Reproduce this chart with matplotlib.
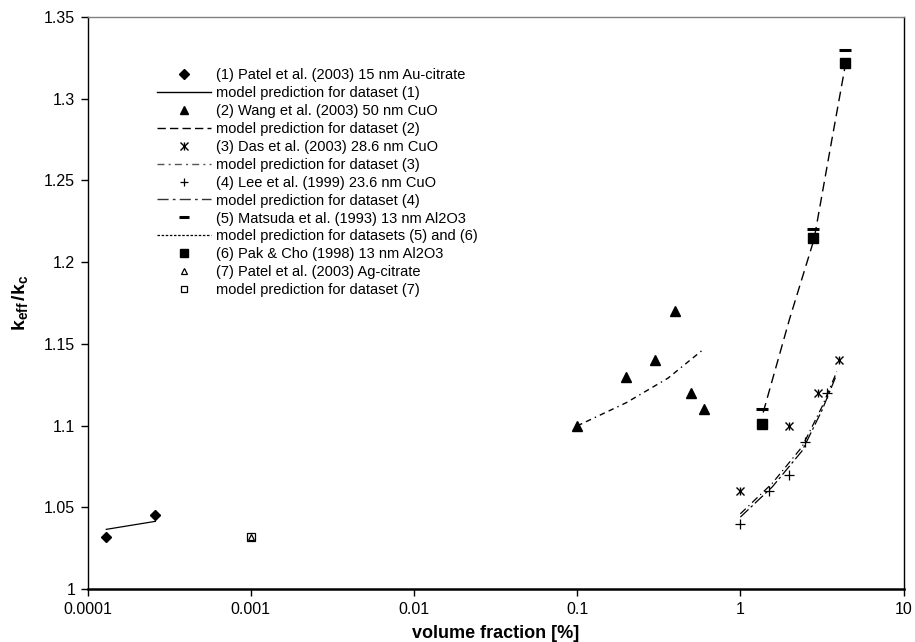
import matplotlib
matplotlib.use("Agg")
import matplotlib.pyplot as plt
from matplotlib.lines import Line2D
from matplotlib.legend_handler import HandlerTuple
from matplotlib.ticker import FixedLocator, FixedFormatter, NullLocator

plt.rcParams['font.family'] = ['Liberation Sans', 'DejaVu Sans']
plt.rcParams['mathtext.fontset'] = 'custom'
plt.rcParams['mathtext.rm'] = 'Liberation Sans'
plt.rcParams['mathtext.bf'] = 'Liberation Sans:bold'
plt.rcParams['mathtext.it'] = 'Liberation Sans:italic'

# ---- data ----
patel_x = [0.00013, 0.00026]
patel_y = [1.032, 1.045]
m1_x = [0.00013, 0.00026]
m1_y = [1.0365, 1.0414]

wang_x = [0.1, 0.2, 0.3, 0.4, 0.5, 0.6]
wang_y = [1.10, 1.13, 1.14, 1.17, 1.12, 1.11]
m2_x = [0.1, 0.2, 0.36, 0.6]
m2_y = [1.0998, 1.114, 1.129, 1.147]

das_x = [1.0, 2.0, 3.0, 4.0]
das_y = [1.06, 1.10, 1.12, 1.14]
m3_x = [1.0, 1.57, 2.39, 3.17, 3.9]
m3_y = [1.046, 1.0647, 1.087, 1.1116, 1.133]

lee_x = [1.0, 1.5, 2.0, 2.5, 3.4]
lee_y = [1.04, 1.06, 1.07, 1.09, 1.12]
m4_x = [1.0, 1.57, 2.39, 3.17, 3.85]
m4_y = [1.044, 1.0625, 1.0845, 1.1095, 1.130]

mats_x = [1.35, 2.8, 4.4]
mats_y = [1.11, 1.22, 1.33]
pak_x = [1.35, 2.8, 4.4]
pak_y = [1.101, 1.215, 1.322]
m56_x = [1.38, 2.0, 2.83, 3.55, 4.39]
m56_y = [1.108, 1.165, 1.214, 1.269, 1.320]

ag_x = [0.001]
ag_y = [1.032]
m7_x = [0.001]
m7_y = [1.032]

xticks = [0.0001, 0.001, 0.01, 0.1, 1, 10]
xticklabels = ['0.0001', '0.001', '0.01', '0.1', '1', '10']
yticks = [1, 1.05, 1.1, 1.15, 1.2, 1.25, 1.3, 1.35]
yticklabels = ['1', '1.05', '1.1', '1.15', '1.2', '1.25', '1.3', '1.35']

labels = [
    '(1) Patel et al. (2003) 15 nm Au-citrate',
    'model prediction for dataset (1)',
    '(2) Wang et al. (2003) 50 nm CuO',
    'model prediction for dataset (2)',
    '(3) Das et al. (2003) 28.6 nm CuO',
    'model prediction for dataset (3)',
    '(4) Lee et al. (1999) 23.6 nm CuO',
    'model prediction for dataset (4)',
    '(5) Matsuda et al. (1993) 13 nm Al2O3',
    'model prediction for datasets (5) and (6)',
    '(6) Pak & Cho (1998) 13 nm Al2O3',
    '(7) Patel et al. (2003) Ag-citrate',
    'model prediction for dataset (7)',
]

# ---- figure ----
fig = plt.figure(figsize=(9.15, 6.42), dpi=100)
ax = fig.add_axes([87.7/915, 1-589/642, (903.5-87.7)/915, (589-17)/642])

k = 'black'
ls2 = (0, (4, 3, 4, 3, 1, 3))
ls56 = (0, (7, 4))
ls3 = (0, (6, 3, 1, 3))
ls4 = (0, (9, 2.5, 2, 2.5))

# model curves
ax.plot(m1_x, m1_y, color=k, lw=0.9)
ax.plot(m2_x, m2_y, color=k, lw=1.0, linestyle=ls2)
ax.plot(m3_x, m3_y, color=k, lw=0.9, linestyle=ls3)
ax.plot(m4_x, m4_y, color=k, lw=0.9, linestyle=ls4)
ax.plot(m56_x, m56_y, color=k, lw=1.0, linestyle=ls56)

# data
ax.plot(patel_x, patel_y, linestyle='none', marker='D', ms=5, color=k)
ax.plot(wang_x, wang_y, linestyle='none', marker='^', ms=7, color=k)
ax.plot(das_x, das_y, linestyle='none', marker='x', ms=6, mew=1.0, color=k)
ax.plot(das_x, das_y, linestyle='none', marker='|', ms=6, mew=1.0, color=k)
ax.plot(lee_x, lee_y, linestyle='none', marker='+', ms=7, mew=0.9, color=k)
ax.plot(mats_x, mats_y, linestyle='none', marker='_', ms=8, mew=2.2, color=k)
ax.plot(pak_x, pak_y, linestyle='none', marker='s', ms=6.5, color=k)
ax.plot(m7_x, m7_y, linestyle='none', marker='s', ms=6, mfc='white', mec=k, mew=0.9)
ax.plot(ag_x, ag_y, linestyle='none', marker='^', ms=4.5, mfc='white', mec=k, mew=0.9)

ax.set_xscale('log')
ax.set_xlim(0.0001, 10)
ax.set_ylim(1, 1.35)
ax.xaxis.set_major_locator(FixedLocator(xticks))
ax.xaxis.set_major_formatter(FixedFormatter(xticklabels))
ax.xaxis.set_minor_locator(NullLocator())
ax.yaxis.set_major_locator(FixedLocator(yticks))
ax.yaxis.set_major_formatter(FixedFormatter(yticklabels))
ax.tick_params(axis='both', direction='out', length=5, width=1, labelsize=11.5, colors=k, pad=4)

for s in ['left', 'right']:
    ax.spines[s].set_color(k)
    ax.spines[s].set_linewidth(1.0)
ax.spines['bottom'].set_linewidth(1.8)
ax.spines['top'].set_color('#808080')
ax.spines['top'].set_linewidth(1.0)

ax.set_xlabel('volume fraction [%]', fontsize=13, fontweight='bold', labelpad=6)
ax.set_ylabel(r'$\mathbf{k_{eff}\,/k_c}$', fontsize=14, labelpad=10)

# legend (proxy handles reproduce the key's symbols)
h = [
    Line2D([], [], linestyle='none', marker='D', ms=5, color=k),
    Line2D([], [], color=k, lw=1.0),
    Line2D([], [], linestyle='none', marker='^', ms=6, color=k),
    Line2D([], [], color=k, lw=1.0, linestyle=(0, (6, 3))),
    (Line2D([], [], linestyle='none', marker='x', ms=5.5, color=k, mew=1.0),
     Line2D([], [], linestyle='none', marker='|', ms=5.5, color=k, mew=1.0)),
    Line2D([], [], color='#555555', lw=1.0, linestyle=(0, (5, 3, 1.5, 3))),
    Line2D([], [], linestyle='none', marker='+', ms=6, color=k, mew=0.9),
    Line2D([], [], color='#333333', lw=1.0, linestyle=(0, (8, 3, 2, 3))),
    Line2D([], [], linestyle='none', marker='_', ms=7, mew=2.2, color=k),
    Line2D([], [], color=k, lw=0.9, linestyle=(0, (2, 1.3))),
    Line2D([], [], linestyle='none', marker='s', ms=6, color=k),
    Line2D([], [], linestyle='none', marker='^', ms=5, mfc='white', mec=k, mew=0.9),
    Line2D([], [], linestyle='none', marker='s', ms=5, mfc='white', mec=k, mew=0.9),
]
leg = fig.legend(h, labels, loc='upper left', bbox_to_anchor=(157/915, 1-68/642),
                 frameon=False, fontsize=10.5, labelspacing=0.27, handlelength=3.7,
                 handletextpad=0.35, borderpad=0, borderaxespad=0,
                 handler_map={tuple: HandlerTuple(ndivide=1, pad=0)})

fig.savefig('out.png', dpi=100)
